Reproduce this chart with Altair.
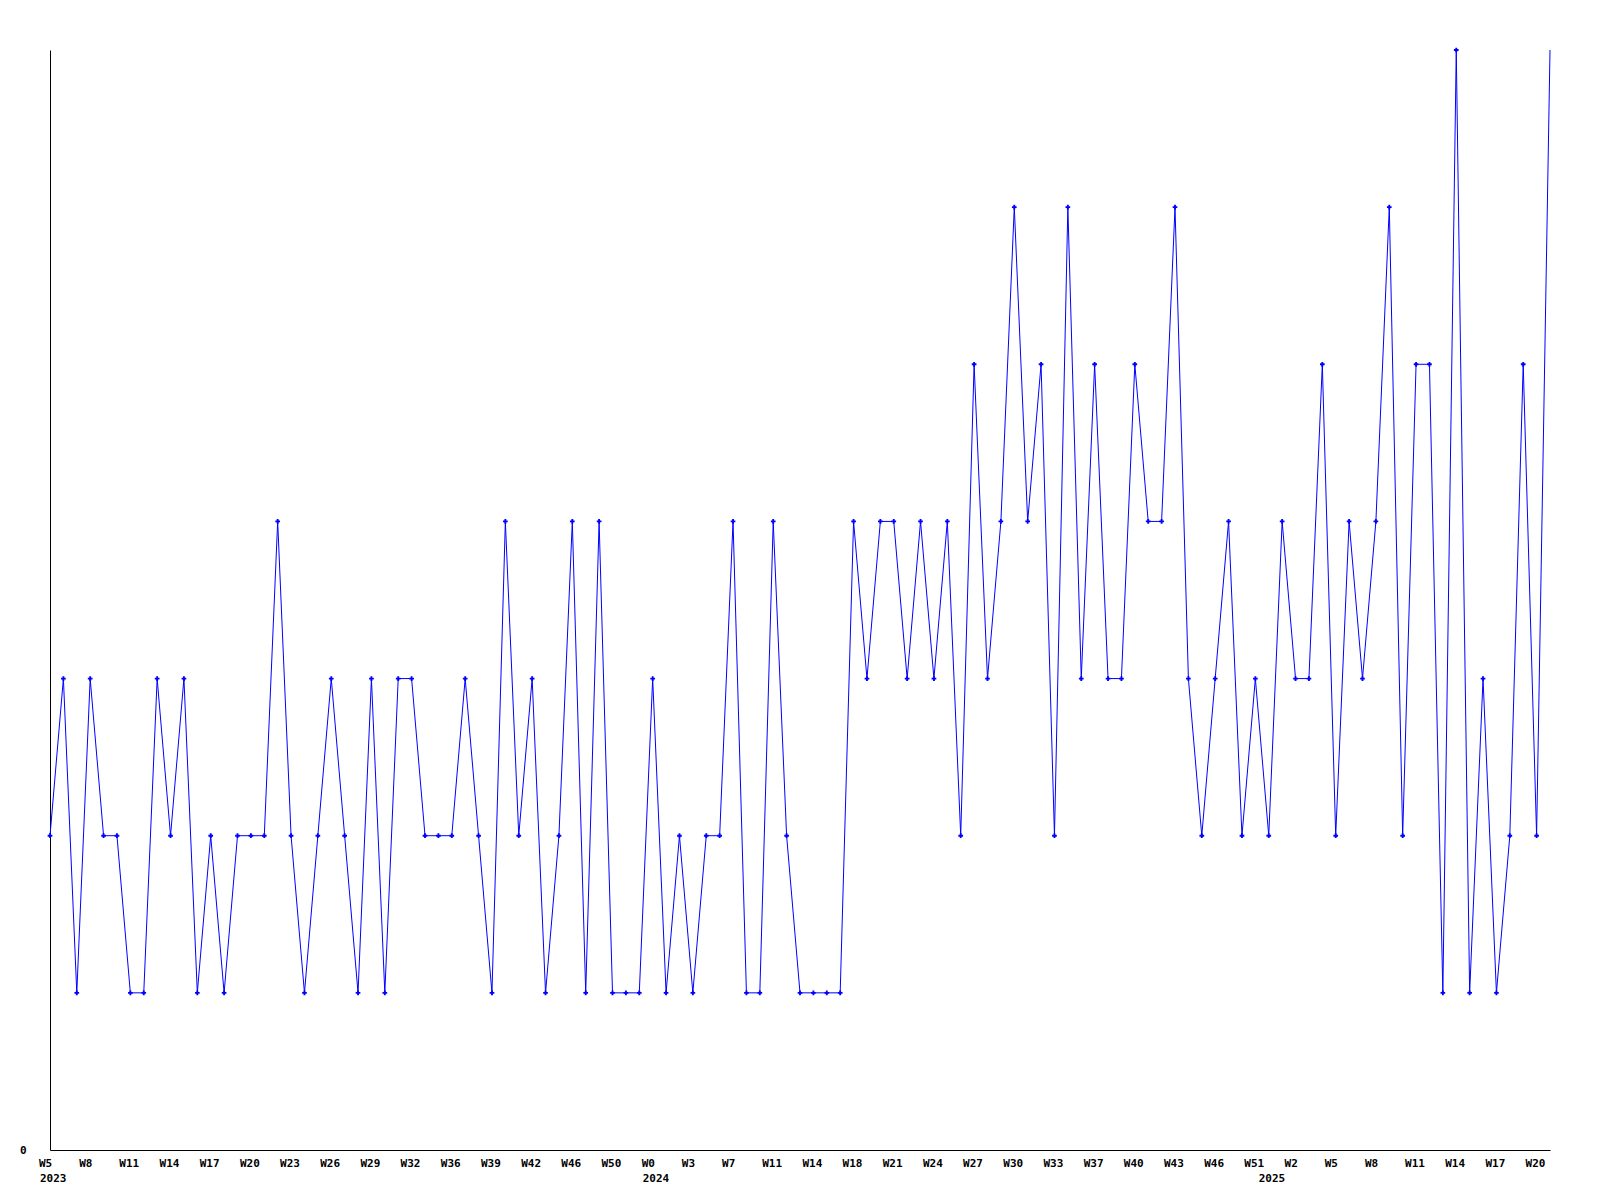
import altair as alt
import pandas as pd

# Weekly values (one per plotted point)
values = [2, 3, 1, 3, 2, 2, 1, 1, 3, 2,
          3, 1, 2, 1, 2, 2, 2, 4, 2, 1,
          2, 3, 2, 1, 3, 1, 3, 3, 2, 2,
          2, 3, 2, 1, 4, 2, 3, 1, 2, 4,
          1, 4, 1, 1, 1, 3, 1, 2, 1, 2,
          2, 4, 1, 1, 4, 2, 1, 1, 1, 1,
          4, 3, 4, 4, 3, 4, 3, 4, 2, 5,
          3, 4, 6, 4, 5, 2, 6, 3, 5, 3,
          3, 5, 4, 4, 6, 3, 2, 3, 4, 2,
          3, 2, 4, 3, 3, 5, 2, 4, 3, 4,
          6, 2, 5, 5, 1, 7, 1, 3, 1, 2,
          5, 2, 7]

# Tick labels: one every third point
week_labels = ["W5", "W8", "W11", "W14", "W17", "W20", "W23", "W26", "W29", "W32",
               "W36", "W39", "W42", "W46", "W50", "W0", "W3", "W7", "W11", "W14",
               "W18", "W21", "W24", "W27", "W30", "W33", "W37", "W40", "W43", "W46",
               "W51", "W2", "W5", "W8", "W11", "W14", "W17", "W20"]
label_step = 3

# Year labels, placed at the first point of each year
year_labels = ["2023", "2024", "2025"]
year_start_points = [0, 45, 91]

FONT = "DejaVu Sans Mono"

df = pd.DataFrame({"i": list(range(len(values))), "v": values})
wk = pd.DataFrame({"i": [k * label_step for k in range(len(week_labels))], "t": week_labels})
yr = pd.DataFrame({"i": year_start_points, "t": year_labels})

n = len(values)
xs = alt.Scale(domain=[0, n - 1], nice=False, zero=False)
ys = alt.Scale(domain=[0, 7], nice=False)

base_x = alt.X("i:Q", scale=xs,
               axis=alt.Axis(labels=False, ticks=False, grid=False, title=None,
                             domainColor="black", domainWidth=1))
base_y = alt.Y("v:Q", scale=ys,
               axis=alt.Axis(values=[0], format="d", ticks=False, grid=False, title=None,
                             domainColor="black", domainWidth=1,
                             labelFont=FONT, labelFontWeight="bold", labelFontSize=11,
                             labelColor="black", labelPadding=24))

line = alt.Chart(df).mark_line(color="#0000ff", strokeWidth=1, clip=False).encode(x=base_x, y=base_y)
pts = alt.Chart(df).transform_filter(f"datum.i < {n - 1}").mark_point(
    shape="cross", filled=True, color="#0000ff", size=22, opacity=1
).encode(x="i:Q", y="v:Q")

wk_text = alt.Chart(wk).mark_text(align="left", baseline="top", dx=-11, font=FONT,
                                  fontWeight="bold", fontSize=11, color="black").encode(
    x="i:Q", y=alt.value(1108), text="t:N")
yr_text = alt.Chart(yr).mark_text(align="left", baseline="top", dx=-10, font=FONT,
                                  fontWeight="bold", fontSize=11, color="black").encode(
    x="i:Q", y=alt.value(1123), text="t:N")

chart = alt.layer(line, pts, wk_text, yr_text).properties(
    width=1500, height=1100,
    autosize=alt.AutoSizeParams(type="none"),
    padding={"left": 42, "top": 42, "right": 10, "bottom": 40},
    background="white",
).configure_view(stroke=None)

chart.save("out.html", embed_options={"renderer": "svg", "actions": False})
